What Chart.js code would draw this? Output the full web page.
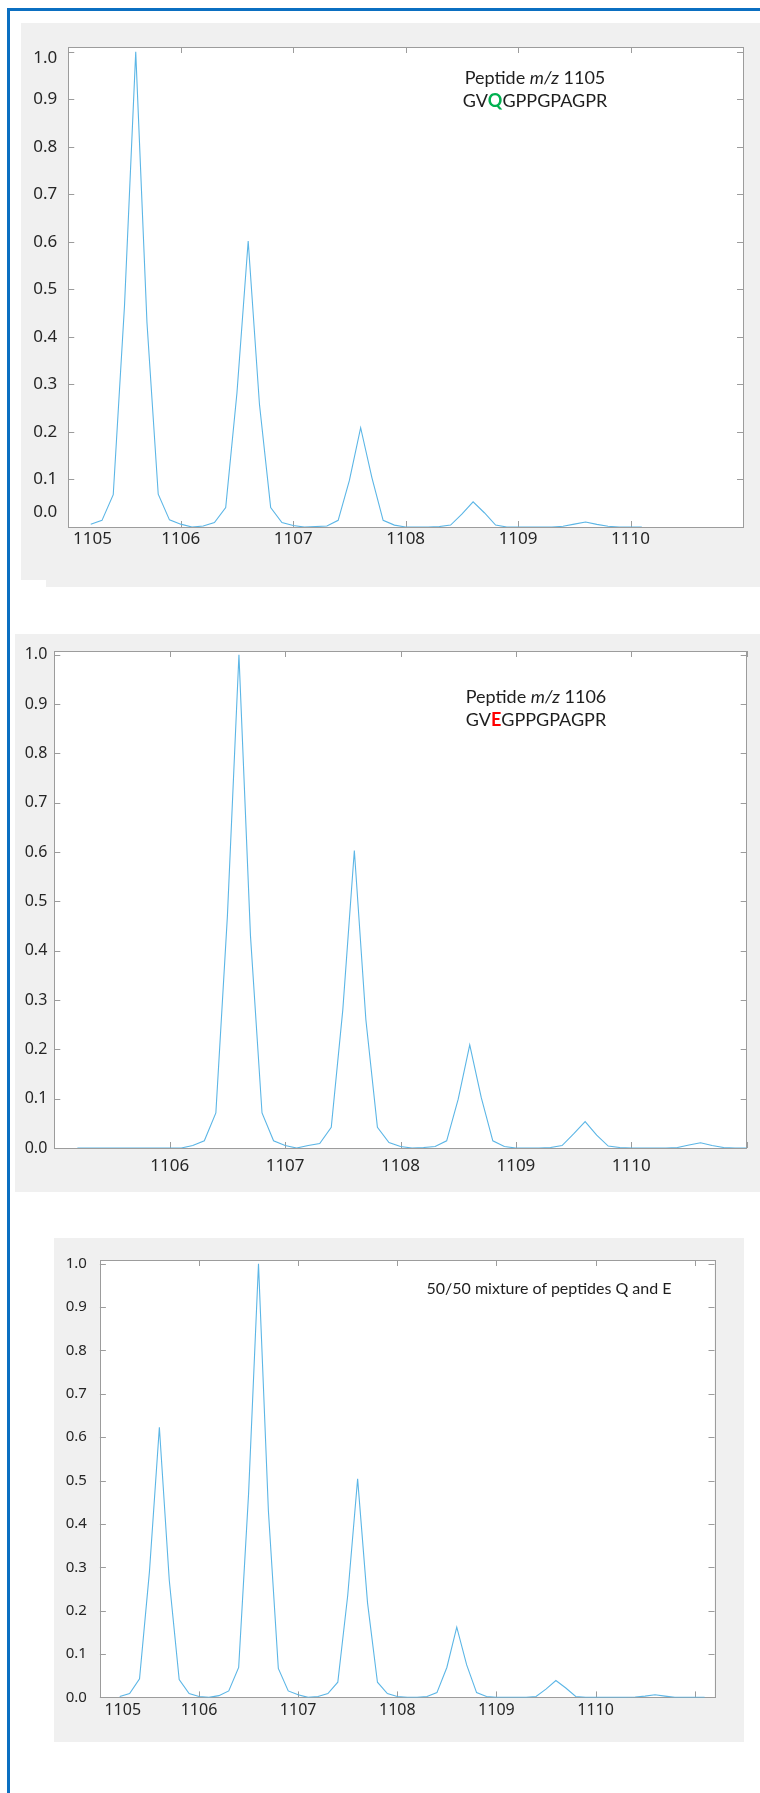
<!DOCTYPE html>
<html>
<head>
<meta charset="utf-8">
<script src="https://cdn.jsdelivr.net/npm/chart.js@4.4.1/dist/chart.umd.min.js"></script>
<style>
  html, body { margin: 0; padding: 0; background: #ffffff; }
  body { width: 760px; height: 1793px; position: relative; overflow: hidden; }
  .frame { position: absolute; background: #0b6fc1; }
  .panel { position: absolute; background: #f0f0f0; }
  .holder { position: absolute; }
  .holder canvas { display: block; }
  .note {
    position: absolute; color: #1e1e1e; white-space: nowrap;
    font-family: Lato, "Noto Sans", sans-serif; text-align: center;
    transform: translateX(-50%);
  }
  .note b.q { color: #00b050; }
  .note b.e { color: #ff0000; }
</style>
</head>
<body>
<!-- outer blue frame -->
<div class="frame" style="left:7px;top:8px;width:3px;height:1785px"></div>
<div class="frame" style="left:7px;top:8px;width:753px;height:3px"></div>

<!-- panel 1 -->
<div class="panel" style="left:21px;top:23px;width:739px;height:557px"></div>
<div class="panel" style="left:46px;top:23px;width:714px;height:564px"></div>
<div class="holder" style="left:21px;top:23px"><canvas id="chartQ" width="739" height="564"></canvas></div>
<div class="note" style="left:535px;top:66px;font-size:18px;line-height:23px">Peptide <i>m/z</i> 1105<br>GV<b class="q">Q</b>GPPGPAGPR</div>

<!-- panel 2 -->
<div class="panel" style="left:15px;top:634px;width:745px;height:558px"></div>
<div class="holder" style="left:15px;top:634px"><canvas id="chartE" width="745" height="558"></canvas></div>
<div class="note" style="left:536px;top:685px;font-size:18px;line-height:23px">Peptide <i>m/z</i> 1106<br>GV<b class="e">E</b>GPPGPAGPR</div>

<!-- panel 3 -->
<div class="panel" style="left:54px;top:1238px;width:690px;height:504px"></div>
<div class="holder" style="left:54px;top:1238px"><canvas id="chartMix" width="690" height="504"></canvas></div>
<div class="note" style="left:549px;top:1277px;font-size:16px;line-height:21px">50/50 mixture of peptides Q and E</div>

<script>
// m/z sampling grid shared by the three spectra
const mz = [
  1105.2, 1105.3, 1105.4, 1105.5, 1105.6, 1105.7, 1105.8, 1105.9, 1106.0, 1106.1,
  1106.2, 1106.3, 1106.4, 1106.5, 1106.6, 1106.7, 1106.8, 1106.9, 1107.0, 1107.1,
  1107.2, 1107.3, 1107.4, 1107.5, 1107.6, 1107.7, 1107.8, 1107.9, 1108.0, 1108.1,
  1108.2, 1108.3, 1108.4, 1108.5, 1108.6, 1108.7, 1108.8, 1108.9, 1109.0, 1109.1,
  1109.2, 1109.3, 1109.4, 1109.5, 1109.6, 1109.7, 1109.8, 1109.9, 1110.0, 1110.1,
  1110.2, 1110.3, 1110.4, 1110.5, 1110.6, 1110.7, 1110.8, 1110.9, 1111.0, 1111.1
];

// GVQGPPGPAGPR, m/z 1105 (relative intensity)
const intensityQ = [
  0.006, 0.014, 0.068, 0.465, 1.000, 0.430, 0.069, 0.015, 0.006, 0.000,
  0.002, 0.0095, 0.041, 0.282, 0.602, 0.259, 0.041, 0.0095, 0.003, 0.000,
  0.001, 0.002, 0.014, 0.098, 0.209, 0.104, 0.014, 0.004, 0.000, 0.000,
  0.000, 0.001, 0.004, 0.027, 0.053, 0.030, 0.004, 0.000, 0.000, 0.000,
  0.000, 0.000, 0.0015, 0.006, 0.0105, 0.0055, 0.0015, 0.000, 0.000, 0.000
];

// GVEGPPGPAGPR, m/z 1106
const intensityE = [
  0.000, 0.000, 0.000, 0.000, 0.000, 0.000, 0.000, 0.000, 0.000, 0.000,
  0.005, 0.0146, 0.071, 0.470, 1.000, 0.430, 0.071, 0.0146, 0.005, 0.000,
  0.005, 0.009, 0.042, 0.280, 0.603, 0.260, 0.042, 0.011, 0.003, 0.000,
  0.001, 0.003, 0.0146, 0.099, 0.209, 0.102, 0.0146, 0.003, 0.000, 0.000,
  0.000, 0.001, 0.005, 0.0286, 0.0535, 0.026, 0.004, 0.001, 0.000, 0.000,
  0.000, 0.000, 0.001, 0.006, 0.0107, 0.005, 0.001, 0.000, 0.000
];

// 50/50 mixture of Q and E
const intensityMix = [
  0.002, 0.0087, 0.043, 0.290, 0.623, 0.270, 0.041, 0.0087, 0.002, 0.000,
  0.004, 0.015, 0.069, 0.470, 1.000, 0.430, 0.067, 0.015, 0.006, 0.000,
  0.002, 0.0087, 0.035, 0.235, 0.504, 0.218, 0.035, 0.0087, 0.002, 0.000,
  0.000, 0.002, 0.011, 0.069, 0.162, 0.075, 0.011, 0.002, 0.000, 0.000,
  0.000, 0.000, 0.002, 0.019, 0.039, 0.0216, 0.002, 0.000, 0.000, 0.000,
  0.000, 0.000, 0.001, 0.003, 0.006, 0.003, 0.000, 0.000, 0.000, 0.000
];

// axis ticks
const yTickValues = [0, 0.1, 0.2, 0.3, 0.4, 0.5, 0.6, 0.7, 0.8, 0.9, 1.0];
const yTickLabels = ['0.0', '0.1', '0.2', '0.3', '0.4', '0.5', '0.6', '0.7', '0.8', '0.9', '1.0'];
const xTickValues = [1105, 1106, 1107, 1108, 1109, 1110, 1111];
const xTickLabelsFull = ['\u2007\u2007\u2007\u2007\u20071105', '1106', '1107', '1108', '1109', '1110', ''];
const xTickLabelsE = ['', '1106', '1107', '1108', '1109', '1110', ''];

const LINE_COLOR = '#5cb6e6';
const FRAME_COLOR = '#9c9c9c';
const LABEL_COLOR = '#262626';
const TICK_FONT = '"Noto Sans", "Open Sans", sans-serif';

// white plot box, closed frame and inward tick marks on all four sides
const framePlugin = {
  id: 'frame',
  beforeDraw(chart) {
    const { ctx, chartArea: a } = chart;
    ctx.save();
    ctx.fillStyle = '#ffffff';
    ctx.fillRect(a.left, a.top, a.right - a.left, a.bottom - a.top);
    ctx.restore();
  },
  beforeDatasetsDraw(chart, args, opts) {
    const { ctx, chartArea: a, scales: { x, y } } = chart;
    const len = opts.tickLength;
    ctx.save();
    ctx.strokeStyle = FRAME_COLOR;
    ctx.lineWidth = 1;
    ctx.beginPath();
    x.ticks.forEach(t => {
      const px = Math.round(x.getPixelForValue(t.value)) + 0.5;
      ctx.moveTo(px, a.top); ctx.lineTo(px, a.top + len);
      ctx.moveTo(px, a.bottom); ctx.lineTo(px, a.bottom - len);
    });
    y.ticks.forEach(t => {
      const py = Math.round(y.getPixelForValue(t.value)) + 0.5;
      ctx.moveTo(a.left, py); ctx.lineTo(a.left + len, py);
      ctx.moveTo(a.right, py); ctx.lineTo(a.right - len, py);
    });
    ctx.stroke();
    ctx.strokeRect(Math.round(a.left) + 0.5, Math.round(a.top) + 0.5,
                   Math.round(a.right - a.left), Math.round(a.bottom - a.top));
    ctx.restore();
  }
};

// a label shifted off its tick: pad with an empty line and size the line height to the shift
function shiftedLabel(text, shift) {
  if (!shift) return text;
  return shift < 0 ? [text, ''] : ['', text];
}

function makeSpectrum(id, values, cfg) {
  const points = values.map((v, i) => ({ x: mz[i], y: v }));
  const yShift = cfg.yLabelShift || {};
  return new Chart(document.getElementById(id), {
    type: 'line',
    data: {
      datasets: [{
        data: points,
        borderColor: LINE_COLOR,
        borderWidth: 1.1,
        pointRadius: 0,
        tension: 0,
        fill: false
      }]
    },
    options: {
      responsive: false,
      animation: false,
      events: [],
      layout: { autoPadding: false, padding: cfg.padding },
      plugins: {
        legend: { display: false },
        tooltip: { enabled: false },
        frame: { tickLength: 6 }
      },
      scales: {
        x: {
          type: 'linear',
          min: cfg.xMin,
          max: cfg.xMax,
          grid: { display: false, drawTicks: false },
          border: { display: false },
          afterBuildTicks: s => { s.ticks = xTickValues.map(v => ({ value: v })); },
          afterFit: s => { s.height = cfg.xAxisHeight; },
          ticks: {
            autoSkip: false,
            maxRotation: 0,
            padding: cfg.xPad,
            color: LABEL_COLOR,
            font: { family: TICK_FONT, size: cfg.xFontSize, lineHeight: 1 },
            callback: (v, i) => cfg.xLabels[i]
          }
        },
        y: {
          type: 'linear',
          min: 0,
          max: cfg.yMax,
          grid: { display: false, drawTicks: false },
          border: { display: false },
          afterBuildTicks: s => { s.ticks = yTickValues.map(v => ({ value: v })); },
          afterFit: s => { s.width = cfg.yAxisWidth; },
          ticks: {
            autoSkip: false,
            padding: cfg.yPad,
            color: LABEL_COLOR,
            font: c => {
              const sh = yShift[c.index];
              return { family: TICK_FONT, size: cfg.yFontSize,
                       lineHeight: sh ? (2 * Math.abs(sh)) + 'px' : 1.2 };
            },
            callback: (v, i) => shiftedLabel(yTickLabels[i], yShift[i])
          }
        }
      }
    },
    plugins: [framePlugin]
  });
}

makeSpectrum('chartQ', intensityQ, {
  padding: { left: 0, top: 15, right: 17, bottom: 0 },
  yAxisWidth: 42, xAxisHeight: 60,
  xMin: 1105, xMax: 1111, yMax: 1.0103,
  xPad: 3.5, yPad: 11, xFontSize: 17, yFontSize: 17,
  xLabels: xTickLabelsFull,
  yLabelShift: { 0: -15, 10: 6.5 }
});

makeSpectrum('chartE', intensityE, {
  padding: { left: 0, top: 17, right: 13.3, bottom: 0 },
  yAxisWidth: 39.3, xAxisHeight: 44,
  xMin: 1105, xMax: 1111, yMax: 1.0075,
  xPad: 10, yPad: 7, xFontSize: 17, yFontSize: 16,
  xLabels: xTickLabelsE
});

makeSpectrum('chartMix', intensityMix, {
  padding: { left: 0, top: 16.8, right: 29.5, bottom: 0 },
  yAxisWidth: 43, xAxisHeight: 44.6,
  xMin: 1105, xMax: 1111.2, yMax: 1.0087,
  xPad: 4.7, yPad: 13, xFontSize: 16, yFontSize: 15,
  xLabels: xTickLabelsFull
});
</script>
</body>
</html>
